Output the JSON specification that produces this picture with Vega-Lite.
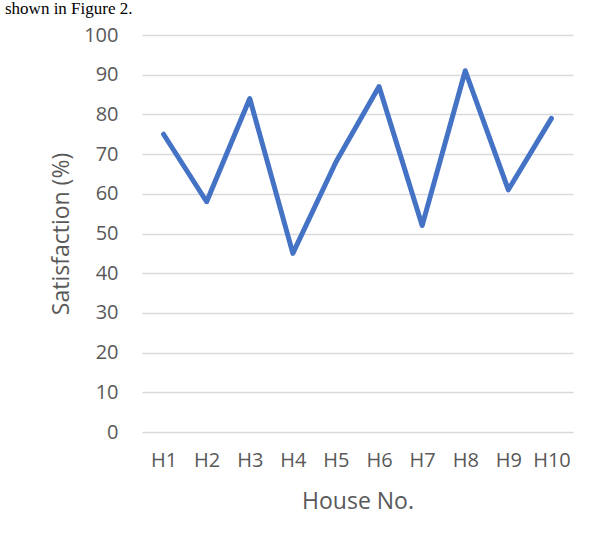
{
  "$schema": "https://vega.github.io/schema/vega-lite/v6.json",
  "autosize": "none",
  "width": 431,
  "height": 397,
  "padding": {"left": 142, "top": 35, "right": 22, "bottom": 112},
  "background": "white",
  "title": {
    "text": "shown in Figure 2.",
    "anchor": "start",
    "frame": "group",
    "dx": -137,
    "offset": 0,
    "dy": 10,
    "baseline": "bottom",
    "font": "Liberation Serif",
    "fontSize": 17,
    "fontWeight": "normal",
    "color": "#000000"
  },
  "data": {
    "values": [
      {"house": "H1", "sat": 75},
      {"house": "H2", "sat": 58},
      {"house": "H3", "sat": 84},
      {"house": "H4", "sat": 45},
      {"house": "H5", "sat": 68},
      {"house": "H6", "sat": 87},
      {"house": "H7", "sat": 52},
      {"house": "H8", "sat": 91},
      {"house": "H9", "sat": 61},
      {"house": "H10", "sat": 79}
    ]
  },
  "mark": {"type": "line", "color": "#4472C4", "strokeWidth": 5, "strokeCap": "round", "strokeJoin": "round"},
  "encoding": {
    "x": {
      "field": "house",
      "type": "ordinal",
      "sort": null,
      "scale": {"type": "point", "padding": 0.5},
      "axis": {
        "title": "House No.",
        "labelAngle": 0,
        "domain": false,
        "ticks": false,
        "grid": false,
        "labelPadding": 18,
        "titlePadding": 20
      }
    },
    "y": {
      "field": "sat",
      "type": "quantitative",
      "scale": {"domain": [0, 100], "nice": false},
      "axis": {
        "title": "Satisfaction (%)",
        "values": [0, 10, 20, 30, 40, 50, 60, 70, 80, 90, 100],
        "domain": false,
        "ticks": false,
        "labelPadding": 24,
        "titlePadding": 10
      }
    }
  },
  "config": {
    "view": {"stroke": null},
    "axis": {
      "labelFont": "Open Sans",
      "titleFont": "Open Sans",
      "labelFontSize": 20,
      "titleFontSize": 23,
      "titleFontWeight": "normal",
      "labelColor": "#595959",
      "titleColor": "#595959",
      "gridColor": "#D9D9D9",
      "gridWidth": 1.5
    }
  }
}
